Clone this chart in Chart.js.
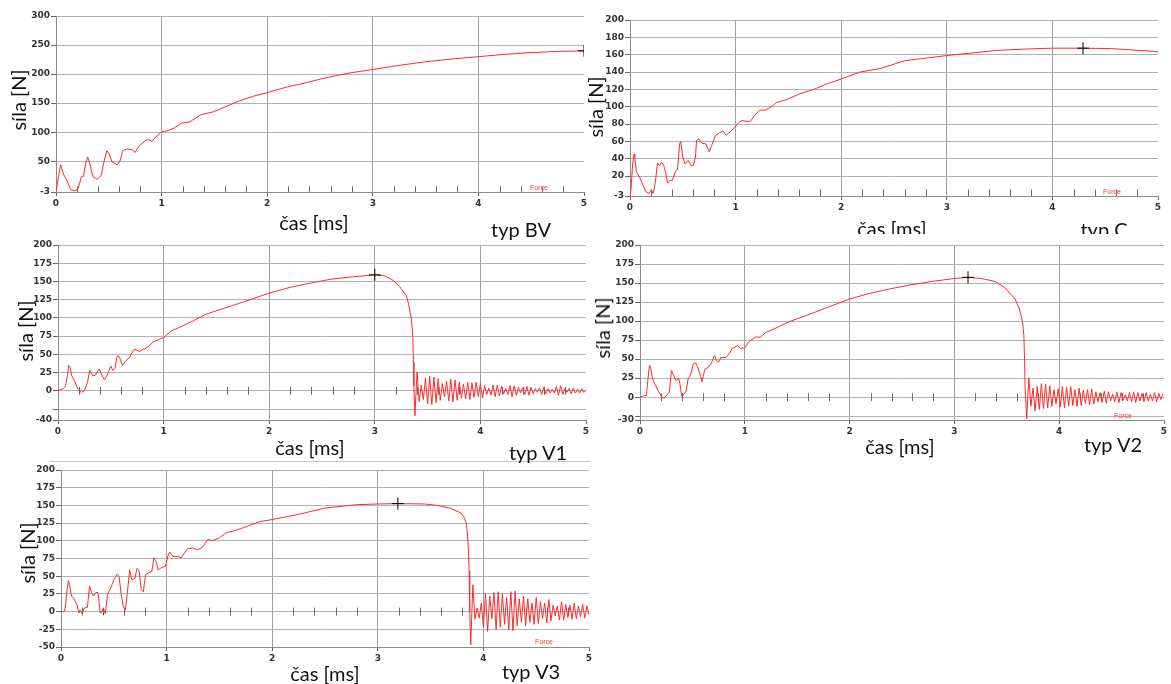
<!DOCTYPE html>
<html>
<head>
<meta charset="utf-8">
<script src="https://cdn.jsdelivr.net/npm/chart.js@4.4.0/dist/chart.umd.min.js"></script>
<style>
body{margin:0;background:#fff;width:1171px;height:684px;overflow:hidden;position:relative;font-family:Lato,sans-serif}
canvas{position:absolute}
.lbl{position:absolute;font-size:20px;color:#111;white-space:nowrap;transform:translate(-50%,-50%);line-height:1}
.ylbl{transform:translate(-50%,-50%) rotate(-90deg)}
.force{position:absolute;font-size:7px;color:#ff3030;font-family:'Liberation Sans',sans-serif;line-height:1}
.clip{position:absolute;overflow:hidden}
.sep{position:absolute;height:1px;background:#c4c4c4}
</style>
</head>
<body>
<canvas id="cBV" width="575" height="206" style="left:16px;top:6px"></canvas>
<canvas id="cC" width="575" height="207" style="left:590px;top:9px"></canvas>
<canvas id="cV1" width="575" height="206" style="left:18px;top:234px"></canvas>
<canvas id="cV2" width="571" height="206" style="left:600px;top:234px"></canvas>
<canvas id="cV3" width="575" height="208" style="left:21px;top:459px"></canvas>

<div class="sep" style="left:50px;top:461px;width:540px"></div>

<div class="lbl ylbl" style="left:18px;top:100px">síla [N]</div>
<div class="lbl" style="left:314px;top:222px">čas [ms]</div>
<div class="lbl" style="left:521px;top:229px">typ BV</div>
<div class="force" style="left:530px;top:184px">Force</div>

<div class="lbl ylbl" style="left:595px;top:107px">síla [N]</div>
<div class="clip" style="left:580px;top:0;width:591px;height:234px">
  <div class="lbl" style="left:312px;top:228px">čas [ms]</div>
  <div class="lbl" style="left:524px;top:229px">typ C</div>
</div>
<div class="force" style="left:1103px;top:188px">Force</div>

<div class="lbl ylbl" style="left:25px;top:331px">síla [N]</div>
<div class="lbl" style="left:310px;top:447px">čas [ms]</div>
<div class="lbl" style="left:538px;top:452px">typ V1</div>

<div class="lbl ylbl" style="left:602px;top:328px">síla [N]</div>
<div class="lbl" style="left:900px;top:446px">čas [ms]</div>
<div class="lbl" style="left:1113px;top:444px">typ V2</div>
<div class="force" style="left:1114px;top:412px">Force</div>

<div class="lbl ylbl" style="left:27px;top:553px">síla [N]</div>
<div class="lbl" style="left:325px;top:673px">čas [ms]</div>
<div class="lbl" style="left:531px;top:671px">typ V3</div>
<div class="force" style="left:535px;top:638px">Force</div>

<script>
// time [ms] and force [N]
const xTicks = [0, 1, 2, 3, 4, 5]

const tBV = [0, 0.02, 0.044, 0.07, 0.1, 0.14, 0.18, 0.21, 0.24, 0.26, 0.28, 0.3, 0.32, 0.35, 0.39, 0.43, 0.45, 0.48, 0.5, 0.53, 0.56, 0.58, 0.61, 0.63, 0.67, 0.72, 0.75, 0.78, 0.85, 0.88, 0.91, 0.94, 1.0, 1.05, 1.12, 1.18, 1.27, 1.37, 1.49, 1.62, 1.74, 1.87, 2.0, 2.19, 2.32, 2.54, 2.75, 3.0, 3.25, 3.49, 3.75, 4.0, 4.25, 4.5, 4.75, 5.0]
const fBV = [-2, 20, 44, 28, 18, 1, -1, 3, 23, 24, 46, 57, 46, 23, 19, 26, 46, 68, 64, 49, 46, 43, 52, 68, 71, 70, 65, 75, 86, 87, 84, 91, 101, 102, 107, 115, 118, 130, 135, 145, 154, 162, 168, 178, 183, 193, 201, 208, 215, 221, 226, 230, 234, 237, 239, 240]
const peakBV = [5.0, 240]
const yTicksBV = [-3, 50, 100, 150, 200, 250, 300]

const tC = [0, 0.01, 0.025, 0.038, 0.045, 0.06, 0.09, 0.12, 0.15, 0.18, 0.2, 0.22, 0.24, 0.26, 0.28, 0.3, 0.32, 0.34, 0.355, 0.38, 0.4, 0.43, 0.45, 0.47, 0.48, 0.5, 0.52, 0.55, 0.58, 0.6, 0.62, 0.63, 0.65, 0.68, 0.72, 0.75, 0.77, 0.81, 0.85, 0.88, 0.91, 0.95, 0.99, 1.03, 1.06, 1.11, 1.14, 1.18, 1.23, 1.28, 1.34, 1.39, 1.48, 1.61, 1.74, 1.86, 2.0, 2.18, 2.37, 2.6, 2.8, 3.0, 3.24, 3.48, 3.75, 4.0, 4.29, 4.56, 4.81, 5.0]
const fC = [-3, 5, 34, 45, 42, 25, 19, 10, 2, 0, 4, 0, 13, 35, 32, 36, 32, 23, 12, 15, 15, 25, 27, 57, 60, 42, 34, 38, 32, 32, 42, 61, 63, 58, 57, 48, 54, 67, 70, 72, 67, 71, 76, 82, 84, 83, 83, 90, 96, 96, 100, 105, 108, 115, 120, 126, 132, 140, 144, 153, 156, 159, 162, 165, 166.5, 167.5, 167.5, 167, 165, 163.5]
const peakC = [4.29, 167.5]
const yTicksC = [-3, 20, 40, 60, 80, 100, 120, 140, 160, 180, 200]

const tV1 = [0, 0.05, 0.07, 0.09, 0.1, 0.114, 0.13, 0.16, 0.19, 0.22, 0.25, 0.28, 0.3, 0.33, 0.35, 0.39, 0.41, 0.44, 0.47, 0.5, 0.52, 0.54, 0.56, 0.58, 0.61, 0.64, 0.68, 0.71, 0.73, 0.77, 0.81, 0.85, 0.9, 1.0, 1.07, 1.15, 1.28, 1.4, 1.59, 1.78, 2.0, 2.2, 2.4, 2.58, 2.8, 3.0, 3.1, 3.18, 3.245, 3.3, 3.32, 3.347, 3.36, 3.366, 3.37, 3.38,
  3.40, 3.42, 3.44, 3.46, 3.48, 3.50, 3.52, 3.54, 3.56, 3.58, 3.60, 3.62, 3.64, 3.66, 3.68, 3.70, 3.72, 3.74, 3.76, 3.78, 3.80, 3.82, 3.84, 3.86, 3.88, 3.90, 3.92, 3.94, 3.96, 3.98,
  4.00, 4.02, 4.04, 4.06, 4.08, 4.10, 4.12, 4.14, 4.16, 4.18, 4.20, 4.22, 4.24, 4.26, 4.28, 4.30, 4.32, 4.34, 4.36, 4.38, 4.40, 4.42, 4.44, 4.46, 4.48, 4.50, 4.52, 4.54, 4.56, 4.58,
  4.60, 4.62, 4.64, 4.66, 4.68, 4.70, 4.72, 4.74, 4.76, 4.78, 4.80, 4.82, 4.84, 4.86, 4.88, 4.90, 4.92, 4.94, 4.96, 4.98, 5.00]
const fV1 = [0, 3, 6, 21, 35, 32, 21, 12, 2, -2, 0, 12, 28, 21, 21, 30, 23, 15, 23, 34, 28, 31, 48, 47, 35, 41, 46, 55, 57, 54, 57, 60, 67, 73, 82, 87, 96, 105, 114, 123, 134, 142, 148, 153, 156.5, 159, 157.5, 151, 141, 130, 119, 98, 75, 39, 7, -34,
  26, -15, 8, -12, 18, -18, 20, -19, 19, -16, 17, -13, 10, -8, 13, -14, 16, -15, 15, -13, 12, -10, 9, -11, 12, -12, 11, -9, 12, -8,
  10, -10, 7, -5, 4, -6, 8, -8, 8, -7, 6, -4, 3, -5, 7, -8, 7, -6, 5, -3, 4, -5, 6, -6, 5, -4, 3, -2, 4, -5,
  5, -4, 3, -3, 2, -3, 6, -6, 7, -5, 3, -2, 3, -4, 4, -3, 2, -3, 3, -2, 1]
const peakV1 = [3.0, 159]
const yTicksV1 = [-40, -25, 0, 25, 50, 75, 100, 125, 150, 175, 200]

const tV2 = [0, 0.04, 0.06, 0.08, 0.09, 0.1, 0.12, 0.14, 0.17, 0.21, 0.23, 0.26, 0.28, 0.3, 0.32, 0.34, 0.37, 0.38, 0.4, 0.42, 0.44, 0.46, 0.48, 0.51, 0.53, 0.55, 0.58, 0.59, 0.62, 0.65, 0.68, 0.71, 0.73, 0.75, 0.77, 0.82, 0.85, 0.88, 0.93, 0.96, 1.0, 1.04, 1.1, 1.15, 1.2, 1.3, 1.42, 1.58, 1.77, 2.0, 2.18, 2.37, 2.56, 2.78, 3.0, 3.13, 3.26, 3.39, 3.48, 3.58, 3.62, 3.65, 3.663, 3.67, 3.675, 3.69,
  3.71, 3.73, 3.75, 3.77, 3.79, 3.81, 3.83, 3.85, 3.87, 3.89, 3.91, 3.93, 3.95, 3.97, 3.99,
  4.01, 4.03, 4.05, 4.07, 4.09, 4.11, 4.13, 4.15, 4.17, 4.19, 4.21, 4.23, 4.25, 4.27, 4.29, 4.31, 4.33, 4.35, 4.37, 4.39, 4.41, 4.43, 4.45, 4.47, 4.49,
  4.51, 4.53, 4.55, 4.57, 4.59, 4.61, 4.63, 4.65, 4.67, 4.69, 4.71, 4.73, 4.75, 4.77, 4.79, 4.81, 4.83, 4.85, 4.87, 4.89, 4.91, 4.93, 4.95, 4.97, 4.99]
const fV2 = [0, 2, 2, 29, 42, 40, 24, 18, 9, 0, -1, 3.5, 7, 35, 29, 22, 24, 18, 1, 4, 8, 25, 28, 44, 45, 40, 27, 20, 37, 39, 44, 55, 48, 46, 52, 52, 57, 64, 68, 64, 65, 73, 79, 79, 85, 91, 99, 107, 117, 129, 136, 142, 147, 152, 156, 157.5, 156, 152, 144, 129, 116, 99, 81, 46, 11, -28,
  25, -12, 12, -18, 14, -16, 18, -15, 17, -14, 15, -12, 10, -9, 11,
  -13, 14, -14, 13, -12, 14, -11, 10, -12, 12, -11, 9, -8, 10, -10, 11, -9, 7, -6, 6, -7, 8, -8, 7, -5,
  4, -6, 7, -7, 6, -4, 3, -5, 6, -6, 7, -7, 6, -5, 5, -6, 6, -5, 4, -5, 6, -6, 5, -3, 4]
const peakV2 = [3.13, 157.5]
const yTicksV2 = [-30, -25, 0, 25, 50, 75, 100, 125, 150, 175, 200]

const tV3 = [0, 0.03, 0.04, 0.06, 0.07, 0.08, 0.1, 0.12, 0.15, 0.17, 0.18, 0.2, 0.22, 0.25, 0.27, 0.29, 0.31, 0.33, 0.35, 0.36, 0.37, 0.39, 0.4, 0.42, 0.44, 0.47, 0.5, 0.53, 0.55, 0.57, 0.59, 0.61, 0.63, 0.65, 0.67, 0.7, 0.72, 0.74, 0.76, 0.78, 0.8, 0.83, 0.86, 0.88, 0.9, 0.92, 0.95, 0.99, 1.01, 1.03, 1.06, 1.1, 1.14, 1.17, 1.2, 1.25, 1.29, 1.34, 1.39, 1.43, 1.5, 1.56, 1.66, 1.79, 1.88, 2.0, 2.14, 2.27, 2.49, 2.8, 3.0, 3.19, 3.44, 3.56, 3.69, 3.79, 3.82, 3.84, 3.856, 3.865, 3.87, 3.88,
  3.90, 3.92, 3.94, 3.96, 3.98,
  4.00, 4.02, 4.04, 4.06, 4.08, 4.10, 4.12, 4.14, 4.16, 4.18, 4.20, 4.22, 4.24, 4.26, 4.28, 4.30, 4.32, 4.34, 4.36, 4.38, 4.40, 4.42, 4.44, 4.46, 4.48,
  4.50, 4.52, 4.54, 4.56, 4.58, 4.60, 4.62, 4.64, 4.66, 4.68, 4.70, 4.72, 4.74, 4.76, 4.78, 4.80, 4.82, 4.84, 4.86, 4.88, 4.90, 4.92, 4.94, 4.96, 4.98, 5.00]
const fV3 = [0, 0, 5, 33, 44, 38, 22, 19, 10, -2, 2, -3, 5, 6, 36, 27, 22, 27, 27, 15, -2, 0, 5, -3, 24, 33, 45, 53, 50, 24, 7, 2, 29, 59, 45, 47, 61, 57, 31, 28, 52, 55, 57, 76, 71, 59, 62, 64, 78, 84, 78, 78, 76, 83, 89, 90, 87, 91, 102, 100, 104, 111, 115, 122, 127, 130, 134, 138, 146, 151, 152, 152.5, 152, 150, 146, 139, 132, 123, 95, 57, 0, -47,
  38, -11, 5, -9, 12,
  -22, 26, -28, 22, -10, 27, -25, 28, -22, 25, -18, 20, -26, 28, -27, 29, -20, 18, -15, 22, -20, 18, -15, 12, -18,
  20, -17, 14, -10, 12, -16, 17, -13, 9, -6, 8, -12, 14, -12, 10, -8, 9, -11, 12, -10, 8, -7, 10, -9, 8, -5]
const peakV3 = [3.19, 152.5]
const yTicksV3 = [-50, -25, 0, 25, 50, 75, 100, 125, 150, 175, 200]

Chart.defaults.animation = false
const tickFont = {family: 'DejaVu Sans', size: 9, weight: 'bold'}

// small marks every 0.2 ms along the zero line
const zeroTicks = {
    id: 'zeroTicks',
    beforeDatasetsDraw(chart){
        const {ctx, chartArea, scales} = chart
        const y0 = scales.y.getPixelForValue(0)
        ctx.save()
        ctx.strokeStyle = '#6a6a6a'
        ctx.lineWidth = 1
        for (let k = 1; k < 25; k++){
            if (!(k % 5)) continue
            const px = Math.round(scales.x.getPixelForValue(k / 5)) + 0.5
            ctx.beginPath()
            ctx.moveTo(px, y0 - 4)
            ctx.lineTo(px, Math.min(y0 + 4, chartArea.bottom))
            ctx.stroke()
        }
        ctx.restore()
    }
}

function makeForceChart(id, t, f, peak, yTicks, hidden, padTop, padRight){
    const pts = t.map((x, i) => ({x: x, y: f[i]}))
    new Chart(document.getElementById(id), {
    type: 'line',
    data: {
        datasets: [
            {data: pts, borderColor: '#ff2a2a', borderWidth: 1, pointRadius: 0, tension: 0, order: 1},
            {type: 'scatter', data: [{x: peak[0], y: peak[1]}], pointStyle: 'cross', pointRadius: 6,
             borderColor: '#000', borderWidth: 1, order: 0}
        ]
    },
    options: {
        responsive: false,
        layout: {padding: {top: padTop, right: padRight, left: 0, bottom: 0}},
        scales: {
        x: {
            type: 'linear',
            min: 0,
            max: 5,
            afterFit: s => { s.height = 20 },
            afterBuildTicks: s => { s.ticks = xTicks.map(v => ({value: v})) },
            grid: {
                color: c => (c.tick && c.tick.value === 5) ? 'rgba(0,0,0,0)' : '#9e9e9e',
                tickColor: '#666',
                tickLength: 4
            },
            border: {color: '#8a8a8a'},
            ticks: {font: tickFont, color: '#333', padding: 2, maxRotation: 0, autoSkip: false}
        },
        y: {
            min: yTicks[0],
            max: yTicks[yTicks.length - 1],
            afterFit: s => { s.width = 40 },
            afterBuildTicks: s => { s.ticks = yTicks.map(v => ({value: v})) },
            grid: {color: '#b2b2b2', tickColor: '#666', tickLength: 5},
            border: {color: '#8a8a8a'},
            ticks: {
                font: tickFont, color: '#333', padding: 1, autoSkip: false,
                callback: v => hidden.includes(v) ? '' : v
            }
        }
        },
        plugins: {
            legend: {display: false},
            tooltip: {enabled: false}
        }
    },
    plugins: [zeroTicks]
    })
}

makeForceChart('cBV', tBV, fBV, peakBV, yTicksBV, [], 10, 5)
makeForceChart('cC', tC, fC, peakC, yTicksC, [], 11, 5)
makeForceChart('cV1', tV1, fV1, peakV1, yTicksV1, [-25], 11, 5)
makeForceChart('cV2', tV2, fV2, peakV2, yTicksV2, [-25], 11, 2)
makeForceChart('cV3', tV3, fV3, peakV3, yTicksV3, [], 11, 5)
</script>
</body>
</html>
